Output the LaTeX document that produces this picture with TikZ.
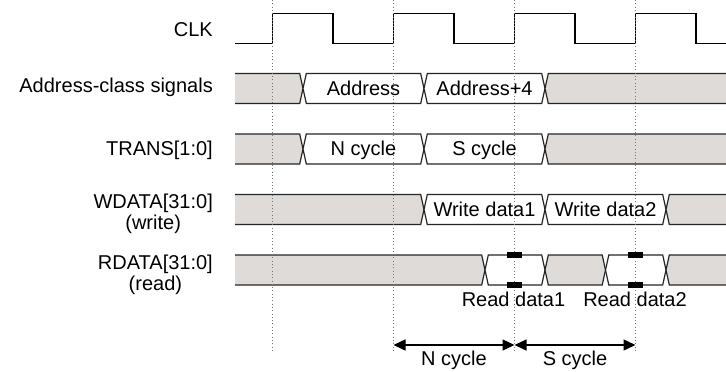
\documentclass[tikz,border=0pt]{standalone}
\usepackage{fontspec}
\setmainfont{Liberation Sans}
\usetikzlibrary{arrows.meta}
\definecolor{busgrey}{RGB}{222,219,216}
\newcommand\wx{3.3}
\newcommand\bsM[5]{%
  \filldraw[busline,fill=#1] ({#2},{(#4+#5)/2}) -- ({#2+\wx},#4) -- ({#3-\wx},#4) -- ({#3},{(#4+#5)/2}) -- ({#3-\wx},#5) -- ({#2+\wx},#5) -- cycle;}
\newcommand\bsL[4]{%
  \fill[#1] (235,#3) -- ({#2-\wx},#3) -- ({#2},{(#3+#4)/2}) -- ({#2-\wx},#4) -- (235,#4) -- cycle;
  \draw[busline] (235,#3) -- ({#2-\wx},#3) -- ({#2},{(#3+#4)/2}) -- ({#2-\wx},#4) -- (235,#4);}
\newcommand\bsR[4]{%
  \fill[#1] (726,#3) -- ({#2+\wx},#3) -- ({#2},{(#3+#4)/2}) -- ({#2+\wx},#4) -- (726,#4) -- cycle;
  \draw[busline] (726,#3) -- ({#2+\wx},#3) -- ({#2},{(#3+#4)/2}) -- ({#2+\wx},#4) -- (726,#4);}
\tikzset{
  busline/.style={draw=black!85,line width=1.2pt,line join=miter},
  clkline/.style={draw=black,line width=1.3pt},
  guide/.style={draw=black!55,line width=0.8pt,dash pattern=on 0.9pt off 2.4pt},
  siglabel/.style={anchor=base east,inner sep=0pt,align=center},
  bustext/.style={anchor=base,inner sep=0pt},
  sampmark/.style={fill=black,draw=none},
  cyclespan/.style={line width=1.4pt,{Triangle[length=12pt,width=11pt]}-{Triangle[length=12pt,width=11pt]}},
}
\begin{document}
\begin{tikzpicture}[x=1pt,y=-1pt,font=\fontsize{20}{21}\selectfont]
\useasboundingbox (0,0) rectangle (726,372);
\fill[white] (0,0) rectangle (726,372);
% clock
\draw[clkline] (235,43.3) -- (272.5,43.3) -- (272.5,13.3) -- (333,13.3) -- (333,43.3)
  -- (393.5,43.3) -- (393.5,13.3) -- (454,13.3) -- (454,43.3)
  -- (514.5,43.3) -- (514.5,13.3) -- (575,13.3) -- (575,43.3)
  -- (635.5,43.3) -- (635.5,13.3) -- (696,13.3) -- (696,43.3) -- (726,43.3);
% Address row
\bsL{busgrey}{303}{73.5}{103.5}
\bsM{white}{303}{424}{73.5}{103.5}
\bsM{white}{424}{545}{73.5}{103.5}
\bsR{busgrey}{545}{73.5}{103.5}
% TRANS row
\bsL{busgrey}{303}{134}{164}
\bsM{white}{303}{424}{134}{164}
\bsM{white}{424}{545}{134}{164}
\bsR{busgrey}{545}{134}{164}
% WDATA row
\bsL{busgrey}{424}{194.5}{224.5}
\bsM{white}{424}{545}{194.5}{224.5}
\bsM{white}{545}{666}{194.5}{224.5}
\bsR{busgrey}{666}{194.5}{224.5}
% RDATA row
\bsL{busgrey}{485}{255}{285}
\bsM{white}{485}{545}{255}{285}
\bsM{busgrey}{545}{605.5}{255}{285}
\bsM{white}{605.5}{666}{255}{285}
\bsR{busgrey}{666}{255}{285}
% guides
\foreach \gx in {272.5,393.5,514.5,635.5}
  \draw[guide] (\gx,0) -- (\gx,352);
% sampling marks
\foreach \mx in {514.5,635.5}{
  \fill[sampmark] (\mx-7.5,252) rectangle (\mx+7.5,257.6);
  \fill[sampmark] (\mx-7.5,282.2) rectangle (\mx+7.5,287.8);
}
% left labels
\node[siglabel] (lclk) at (213,36.5) {CLK};
\node[siglabel] (ladr) at (213,92.7) {Address-class signals};
\node[siglabel] (ltrn) at (213,155.5) {TRANS[1:0]};
\node[siglabel] (lwd) at (213,229.3) {WDATA[31:0]\\(write)};
\node[siglabel] (lrd) at (213,290) {RDATA[31:0]\\(read)};
% bus texts
\node[bustext] (tadr) at (363.5,95) {Address};
\node[bustext] (tadr4) at (484.5,95) {Address+4};
\node[bustext] (tn) at (363.5,155.5) {N cycle};
\node[bustext] (ts) at (484.5,155.5) {S cycle};
\node[bustext] (tw1) at (484.5,216) {Write data1};
\node[bustext] (tw2) at (605.5,216) {Write data2};
\node[bustext] (tr1) at (513.5,306.5) {Read data1};
\node[bustext] (tr2) at (635,306.5) {Read data2};
% cycle spans
\coordinate (c1) at (393.5,345);
\coordinate (c2) at (514.5,345);
\coordinate (c3) at (635.5,345);
\draw[cyclespan] (c1) -- (c2);
\draw[cyclespan] (c2) -- (c3);
\node[bustext] (ncyc) at (454,365) {N cycle};
\node[bustext] (scyc) at (575,365) {S cycle};
\end{tikzpicture}
\end{document}
